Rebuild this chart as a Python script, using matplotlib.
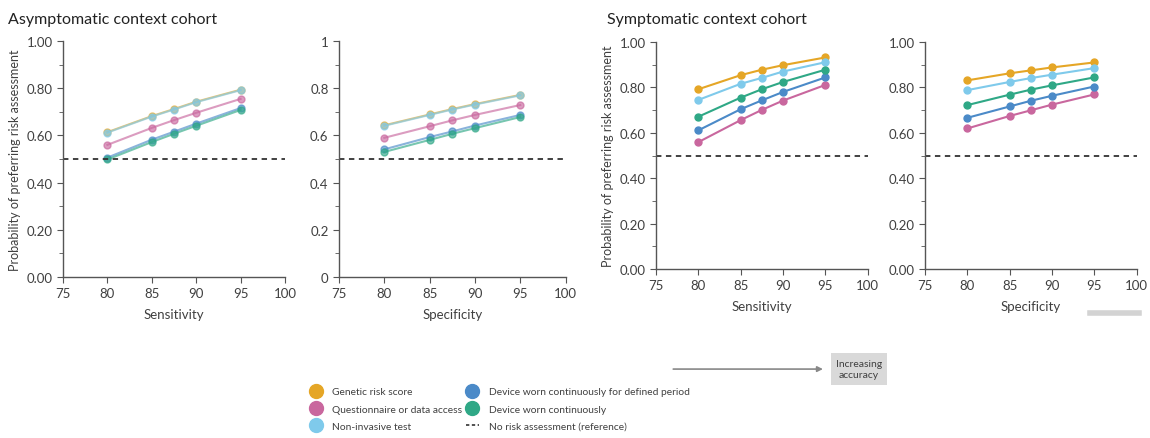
import matplotlib
matplotlib.use("Agg")
import matplotlib.pyplot as plt
from matplotlib.lines import Line2D
from matplotlib.patches import FancyArrowPatch
from matplotlib.ticker import FormatStrFormatter, MultipleLocator

plt.rcParams['font.family'] = ['Lato', 'DejaVu Sans']

accuracy = [80, 85, 87.5, 90, 95]

# asymptomatic cohort
asym_sens = {
    'genetic': [0.614, 0.682, 0.712, 0.743, 0.794],
    'questionnaire': [0.560, 0.632, 0.665, 0.696, 0.755],
    'noninvasive': [0.612, 0.680, 0.710, 0.741, 0.792],
    'device_period': [0.506, 0.582, 0.616, 0.650, 0.716],
    'device_cont': [0.498, 0.572, 0.607, 0.641, 0.708],
}
asym_spec = {
    'genetic': [0.643, 0.689, 0.712, 0.733, 0.772],
    'questionnaire': [0.590, 0.639, 0.664, 0.687, 0.729],
    'noninvasive': [0.641, 0.687, 0.710, 0.731, 0.770],
    'device_period': [0.541, 0.593, 0.617, 0.642, 0.687],
    'device_cont': [0.530, 0.581, 0.607, 0.631, 0.678],
}

# symptomatic cohort
sym_sens = {
    'genetic': [0.792, 0.854, 0.878, 0.898, 0.932],
    'questionnaire': [0.559, 0.656, 0.701, 0.742, 0.811],
    'noninvasive': [0.745, 0.816, 0.842, 0.870, 0.911],
    'device_period': [0.611, 0.704, 0.743, 0.780, 0.844],
    'device_cont': [0.671, 0.755, 0.792, 0.824, 0.878],
}
sym_spec = {
    'genetic': [0.831, 0.862, 0.875, 0.888, 0.910],
    'questionnaire': [0.619, 0.674, 0.699, 0.724, 0.769],
    'noninvasive': [0.788, 0.824, 0.841, 0.856, 0.885],
    'device_period': [0.666, 0.716, 0.741, 0.763, 0.804],
    'device_cont': [0.722, 0.768, 0.790, 0.809, 0.844],
}

series = ['genetic', 'questionnaire', 'noninvasive', 'device_period', 'device_cont']
labels = {
    'genetic': 'Genetic risk score',
    'questionnaire': 'Questionnaire or data access',
    'noninvasive': 'Non-invasive test',
    'device_period': 'Device worn continuously for defined period',
    'device_cont': 'Device worn continuously',
}
colors = {
    'genetic': '#E5A626',
    'questionnaire': '#C9679E',
    'noninvasive': '#7FCAEB',
    'device_period': '#4B8AC8',
    'device_cont': '#2FA886',
}
reference = 0.5

text_col = '#404040'
fig = plt.figure(figsize=(11.5, 4.39), dpi=100)

panels = [
    ([0.0548, 0.367, 0.193, 0.537], asym_sens, 'Sensitivity', '%.2f', True, 0.65),
    ([0.2948, 0.367, 0.197, 0.537], asym_spec, 'Specificity', '%g', False, 0.65),
    ([0.5705, 0.385, 0.184, 0.517], sym_sens, 'Sensitivity', '%.2f', True, 1.0),
    ([0.8043, 0.385, 0.184, 0.517], sym_spec, 'Specificity', '%.2f', False, 1.0),
]

for rect, data, xlabel, fmt, show_ylabel, alpha in panels:
    ax = fig.add_axes(rect)
    for s in series:
        ax.plot(accuracy, data[s], color=colors[s], marker='o', markersize=5,
                linewidth=1.5, alpha=alpha)
    ax.axhline(reference, color='#333333', linestyle=(0, (3, 2.5)), linewidth=1.3)
    ax.set_xlim(75, 100)
    ax.set_ylim(0, 1)
    ax.set_xticks([75, 80, 85, 90, 95, 100])
    ax.yaxis.set_major_locator(MultipleLocator(0.2))
    ax.yaxis.set_minor_locator(MultipleLocator(0.1))
    ax.yaxis.set_major_formatter(FormatStrFormatter(fmt))
    for side in ['top', 'right']:
        ax.spines[side].set_visible(False)
    for side in ['left', 'bottom']:
        ax.spines[side].set_color('#555555')
        ax.spines[side].set_linewidth(1.0)
    ax.tick_params(colors='#555555', labelcolor=text_col, labelsize=9.5, length=4)
    ax.tick_params(which='minor', length=3, colors='#555555')
    ax.set_xlabel(xlabel, fontsize=9.5, color=text_col, labelpad=6)
    if show_ylabel:
        ax.set_ylabel('Probability of preferring risk assessment', fontsize=9,
                      color=text_col, labelpad=4)

fig.text(0.007, 0.955, 'Asymptomatic context cohort', fontsize=11.5, color='#222222',
         va='center')
fig.text(0.528, 0.955, 'Symptomatic context cohort', fontsize=11.5, color='#222222',
         va='center')

# legend
handles = []
for s in series:
    handles.append(Line2D([], [], linestyle='none', marker='o', markersize=10,
                          color=colors[s], label=labels[s]))
handles.append(Line2D([], [], color='#333333', linestyle=(0, (2, 1.5)), linewidth=1.2,
                      label='No risk assessment (reference)'))
leg = fig.legend(handles=handles, ncol=2, loc='upper left',
                 bbox_to_anchor=(0.265, 0.125), frameon=False, fontsize=7.4,
                 handlelength=1.3, handletextpad=1.0, columnspacing=0.3,
                 labelspacing=0.78, borderaxespad=0)
for t in leg.get_texts():
    t.set_color(text_col)

# increasing accuracy arrow
fig.patches.append(FancyArrowPatch(
    (0.583, 0.157), (0.718, 0.157), transform=fig.transFigure,
    arrowstyle='-|>', mutation_scale=8, color='#888888', linewidth=1.2))
fig.text(0.747, 0.157, 'Increasing\naccuracy', fontsize=7.5, color=text_col,
         ha='center', va='center', linespacing=1.4,
         bbox=dict(boxstyle='square,pad=0.5', facecolor='#d9d9d9', edgecolor='none'))

# grey bar under right panel
fig.add_artist(plt.Line2D([0.948, 0.99], [0.284, 0.284], color='#d3d3d3', linewidth=4,
                          transform=fig.transFigure))

fig.savefig('out.png', dpi=100)
